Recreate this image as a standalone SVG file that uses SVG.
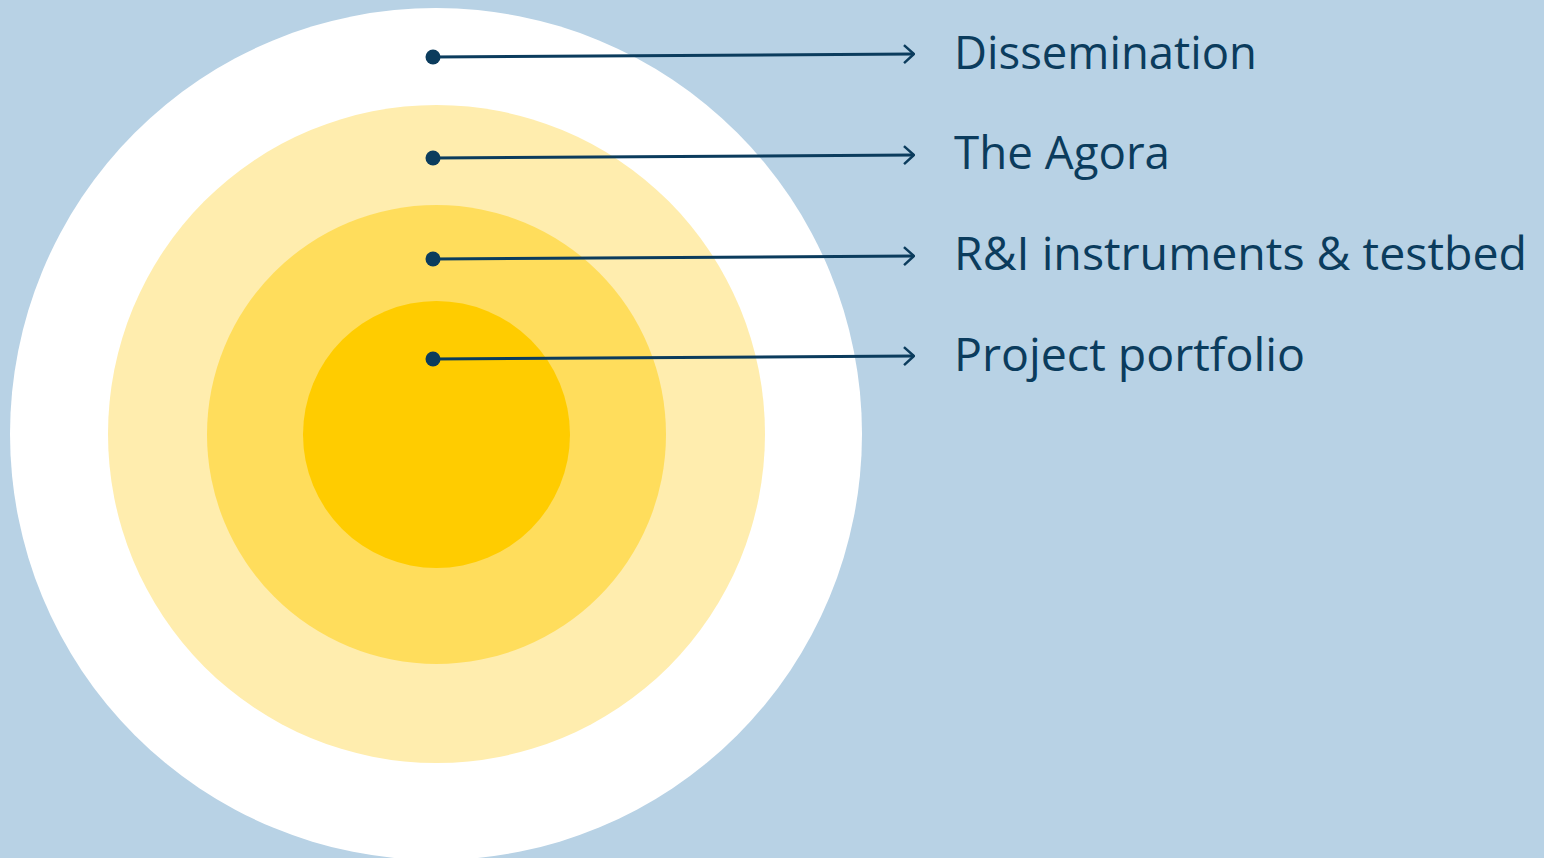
<svg xmlns="http://www.w3.org/2000/svg" width="1544" height="858" viewBox="0 0 1544 858">
<defs>
<style>
.lbl{font-family:"Open Sans","Noto Sans","Liberation Sans",sans-serif;font-size:46px;fill:#0B3C5D}
.con{stroke:#0B3C5D;stroke-width:3;fill:none}
.dot{fill:#0B3C5D}
</style>
<marker id="arr" viewBox="0 0 12 20" refX="11" refY="10" markerWidth="12" markerHeight="20" markerUnits="userSpaceOnUse" orient="auto">
<path d="M1,1 L11,10 L1,19" fill="none" stroke="#0B3C5D" stroke-width="2.5"/>
</marker>
</defs>
<rect width="1544" height="858" fill="#B8D2E5"/>
<g id="ring-dissemination"><ellipse cx="436" cy="434" rx="426" ry="426" fill="#FFFFFF"/></g>
<g id="ring-agora"><ellipse cx="436.5" cy="434" rx="328.5" ry="329" fill="#FFEDAE"/></g>
<g id="ring-ri"><ellipse cx="436.5" cy="434.5" rx="229.5" ry="229.5" fill="#FFDD5C"/></g>
<g id="ring-portfolio"><ellipse cx="436.5" cy="434.5" rx="133.5" ry="133.5" fill="#FFCC00"/></g>
<g id="connectors">
<line class="con" x1="433" y1="57" x2="914" y2="54" marker-end="url(#arr)"/>
<line class="con" x1="433" y1="158" x2="914" y2="155" marker-end="url(#arr)"/>
<line class="con" x1="433" y1="259" x2="914" y2="256" marker-end="url(#arr)"/>
<line class="con" x1="433" y1="359" x2="914" y2="356" marker-end="url(#arr)"/>
<circle class="dot" cx="433" cy="57" r="7.5"/>
<circle class="dot" cx="433" cy="158" r="7.5"/>
<circle class="dot" cx="433" cy="259" r="7.5"/>
<circle class="dot" cx="433" cy="359" r="7.5"/>
</g>
<g id="label-dissemination"><text class="lbl" x="954" y="69" textLength="303" lengthAdjust="spacingAndGlyphs">Dissemination</text></g>
<g id="label-agora"><text class="lbl" x="954" y="169" textLength="216" lengthAdjust="spacingAndGlyphs">The Agora</text></g>
<g id="label-ri"><text class="lbl" x="954" y="270" textLength="573" lengthAdjust="spacingAndGlyphs">R&amp;I instruments &amp; testbed</text></g>
<g id="label-portfolio"><text class="lbl" x="954" y="371" textLength="351" lengthAdjust="spacingAndGlyphs">Project portfolio</text></g>
</svg>
